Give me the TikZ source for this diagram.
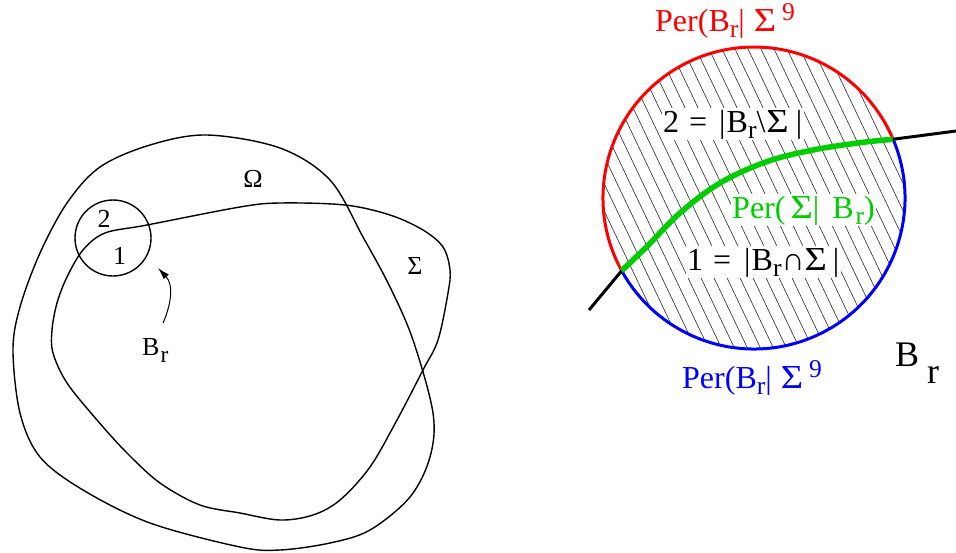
\documentclass[tikz,border=0pt]{standalone}
\usepackage{fontspec}
\setmainfont{Liberation Serif}
\usetikzlibrary{arrows.meta,calc}
\newcommand{\lowr}{\raisebox{-0.2em}{\scalebox{0.8}{r}}}
\newcommand{\wsig}{\scalebox{1.2}[1.05]{Σ}}
\newcommand{\supnine}{\raisebox{0.7ex}{\scalebox{0.8}{9}}}
\definecolor{pgreen}{RGB}{0,205,0}
\definecolor{pred}{RGB}{255,0,0}
\definecolor{pblue}{RGB}{0,0,255}
\tikzset{
  blob/.style={line width=1.4pt, black},
  lbl/.style={font=\fontsize{26}{26}\selectfont, inner sep=0pt},
  rlbl/.style={font=\fontsize{32}{32}\selectfont, inner sep=0pt},
  wlbl/.style={font=\fontsize{32}{32}\selectfont, inner sep=1.5pt, fill=white},
  hatch/.style={line width=0.6pt, black!85},
}
\begin{document}
\begin{tikzpicture}[x=1pt,y=-1pt]
\useasboundingbox (0,0) rectangle (956,552);
% ---------- left diagram ----------
% Omega
\draw[blob] plot[smooth cycle, tension=0.55] coordinates {
 (207,135) (280,148) (330,180) (363,237) (390,287) (413,340) (433,413)
 (430,457) (410,497) (370,530) (330,543) (280,550) (240,547) (150,523)
 (83,490) (40,457) (20,413) (13,350) (20,307) (40,253) (67,203)
 (100,167) (150,145)};
% Sigma
\draw[blob] plot[smooth cycle, tension=0.55] coordinates {
 (147,225) (240,207) (280,203) (345,205) (390,215) (423,230) (443,247)
 (450,270) (448,293) (438,340) (423,370) (397,420) (370,467) (340,500)
 (313,515) (280,520) (240,513) (200,505) (160,483) (127,453) (97,420)
 (67,383) (53,353) (52,330) (57,303) (67,277) (83,250) (105,233)};
% small ball
\node[draw, line width=1.4pt, circle, minimum size=76pt, inner sep=0pt] (ball) at (113,238) {};
\node[lbl] (omega) at (253,178.5) {Ω};
\node[lbl] (sigma) at (415,266) {Σ};
\node[lbl] (two) at (104,219) {2};
\node[lbl] (one) at (119.5,256) {1};
\node[lbl, anchor=base west] (brl) at (142,355) {B\hspace{1pt}\raisebox{-0.3em}{\scalebox{0.9}{r}}};
\coordinate (arrs) at (163,323);
\coordinate (arre) at (158,268);
\draw[line width=1pt, -{Latex[length=12pt,width=7pt]}] (arrs) .. controls (171,305) and (174,285) .. (arre);
% ---------- right diagram ----------
\coordinate (C) at (754,198);
\coordinate (pl) at (621.7,270.7);
\coordinate (pr) at (892.7,139.3);
\coordinate (el) at (589,310);
\coordinate (er) at (956,131);
\begin{scope}
  \clip (C) circle[radius=151];
  \foreach \i in {-25,...,25} {
    \draw[hatch] ($(754,198)+(\i*13,0)+(-80,-168)$) -- ++(160,336);
  }
\end{scope}
\draw[line width=3pt, pred] ([shift={(151:151)}]C) arc[start angle=151, end angle=337, radius=151];
\draw[line width=3pt, pblue] ([shift={(-23:151)}]C) arc[start angle=-23, end angle=151, radius=151];
\draw[line width=3pt, black] (el) -- (pl);
\draw[line width=3pt, black] (pr) -- (er);
\draw[line width=5.5pt, pgreen] plot[smooth, tension=0.6] coordinates {
 (621.7,270.7) (646.7,246.7) (680,213) (720,183) (766.7,161.7) (813,150) (860,142.7) (892.7,139.3)};
\node[rlbl, text=pred, anchor=base west] (pertop) at (655,31) {Per(B\lowr|\hspace{9pt}\wsig\hspace{6pt}\supnine};
\node[wlbl, anchor=base west] (two2) at (661.5,132) {2\hspace{10pt}=\hspace{12pt}|\hspace{1pt}B\lowr\textbackslash\hspace{1pt}\wsig\hspace{7pt}|};
\node[wlbl, text=pgreen, anchor=base west] (persig) at (730.5,218) {Per(\hspace{5pt}\wsig|\hspace{13pt}B\hspace{2pt}\lowr)};
\node[wlbl, anchor=base west] (one2) at (685.5,270) {1\hspace{10pt}=\hspace{13pt}|\hspace{1pt}B\lowr∩\wsig\hspace{6pt}|};
\node[rlbl, text=pblue, anchor=base west] (perbot) at (682,388) {Per(B\lowr|\hspace{9pt}\wsig\hspace{6pt}\supnine};
\node[anchor=base west, inner sep=0pt, font=\fontsize{36}{36}\selectfont] (bigbr) at (895,366) {B\hspace{8pt}\raisebox{-17pt}{r}};
\end{tikzpicture}
\end{document}
